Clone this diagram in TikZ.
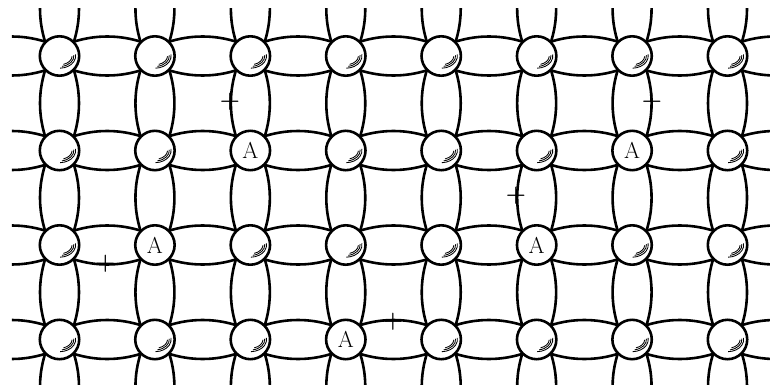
\documentclass[tikz,border=0pt]{standalone}
\usepackage{fontspec}
\setmainfont{Latin Modern Roman}
\begin{document}
\begin{tikzpicture}[x=1pt,y=1pt,
  lensline/.style={line width=2.6pt},
  ball/.style={circle,draw,fill=white,line width=2.6pt,minimum size=39.4pt,inner sep=0pt,font=\fontsize{23}{27}\selectfont},
  hl/.style={line width=0.85pt},
  plus/.style={inner sep=0pt,font=\fontsize{23}{27}\selectfont\bfseries}]
\useasboundingbox (0,0) rectangle (770,-385);
\expandafter\def\csname isA-3-2\endcsname{}
\expandafter\def\csname isA-7-2\endcsname{}
\expandafter\def\csname isA-2-3\endcsname{}
\expandafter\def\csname isA-6-3\endcsname{}
\expandafter\def\csname isA-4-4\endcsname{}
% grid points (including virtual ones beyond the border)
\foreach \i in {0,...,9}{
  \foreach \j in {0,...,5}{
    \coordinate (p-\i-\j) at ({59.5+95.43*(\i-1)},{-(56+94.5*(\j-1))});
  }
}
\begin{scope}
\clip (11.8,-8.8) rectangle (770,-385);
% horizontal lenses
\foreach \j in {1,...,4}{
  \foreach \i in {0,...,8}{
    \pgfmathtruncatemacro\k{\i+1}
    \draw[lensline] ([yshift=9pt]p-\i-\j) .. controls +(31.8,14) and +(-31.8,14) .. ([yshift=9pt]p-\k-\j);
    \draw[lensline] ([yshift=-9pt]p-\i-\j) .. controls +(31.8,-14) and +(-31.8,-14) .. ([yshift=-9pt]p-\k-\j);
  }
}
% vertical lenses
\foreach \i in {1,...,8}{
  \foreach \j in {0,...,4}{
    \pgfmathtruncatemacro\k{\j+1}
    \draw[lensline] ([xshift=-9pt]p-\i-\j) .. controls +(-14,-31.5) and +(-14,31.5) .. ([xshift=-9pt]p-\i-\k);
    \draw[lensline] ([xshift=9pt]p-\i-\j) .. controls +(14,-31.5) and +(14,31.5) .. ([xshift=9pt]p-\i-\k);
  }
}
\end{scope}
% balls
\foreach \i in {1,...,8}{
  \foreach \j in {1,...,4}{
    \ifcsname isA-\i-\j\endcsname
      \node[ball] (c-\i-\j) at (p-\i-\j) {A};
    \else
      \node[ball] (c-\i-\j) at (p-\i-\j) {};
      \draw[hl] (c-\i-\j.center) ++(-88:16.2 and 12.2) arc[start angle=-88,end angle=8,x radius=16.2,y radius=12.2];
      \draw[hl] (c-\i-\j.center) ++(-80:14.4 and 10.5) arc[start angle=-80,end angle=4,x radius=14.4,y radius=10.5];
      \draw[hl] (c-\i-\j.center) ++(-72:12.6 and 8.8) arc[start angle=-72,end angle=-2,x radius=12.6,y radius=8.8];
    \fi
  }
}
% plus signs
\node[plus] (s1) at (230,-102) {+};
\node[plus] (s2) at (652,-102) {+};
\node[plus] (s3) at (516,-196) {+};
\node[plus] (s4) at (105.5,-263.5) {+};
\node[plus] (s5) at (393,-321.5) {+};
\end{tikzpicture}
\end{document}
